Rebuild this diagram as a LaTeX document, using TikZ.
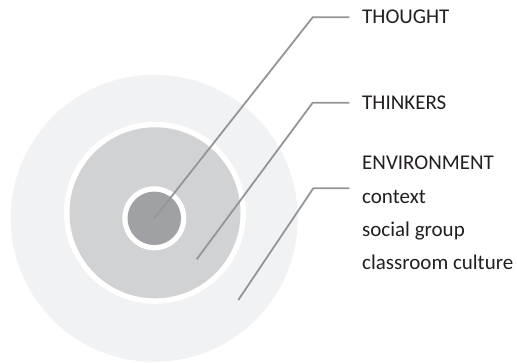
\documentclass[tikz,border=0pt]{standalone}
\usepackage{fontspec}
\setmainfont{Carlito}
\definecolor{outerc}{HTML}{F1F2F3}
\definecolor{midc}{HTML}{D1D2D4}
\definecolor{innerc}{HTML}{A0A1A5}
\definecolor{leadc}{HTML}{939598}
\definecolor{textc}{HTML}{231F20}
\begin{document}
\begin{tikzpicture}[x=1pt,y=-1pt,
  disc/.style={circle,inner sep=0pt,draw=none},
  ring/.style={circle,inner sep=0pt,draw=none,fill=white},
  leader/.style={draw=leadc,line width=1.8pt},
  lab/.style={anchor=base west,inner sep=0pt,text=textc,font=\fontsize{21}{24}\selectfont}]
\useasboundingbox (0,0) rectangle (517,362);
\fill[white] (0,0) rectangle (517,362);
\node[disc,fill=outerc,minimum size=287pt] (envc) at (154.2,218.3) {};
\node[ring,minimum size=182pt] (midring) at (155,212.8) {};
\node[disc,fill=midc,minimum size=171pt] (thinkc) at (155,212.8) {};
\node[ring,minimum size=64pt] (inring) at (154.3,218.3) {};
\node[disc,fill=innerc,minimum size=53.5pt] (thoughtc) at (154.3,218.3) {};
% leader points
\coordinate (p2) at (196.7,259.3);
\coordinate (p3) at (238.3,300);
\coordinate (c1) at (312.7,17.3);
\coordinate (c2) at (312.7,102.7);
\coordinate (c3) at (313.3,188.3);
\coordinate (e1) at (349.3,17.3);
\coordinate (e2) at (349.3,102.7);
\coordinate (e3) at (349.3,188.3);
\draw[leader] (thoughtc.center) -- (c1) -- (e1);
\draw[leader] (p2) -- (c2) -- (e2);
\draw[leader] (p3) -- (c3) -- (e3);
% labels
\node[lab] (l1) at (362,23) {THOUGHT};
\node[lab] (l2) at (362,109) {THINKERS};
\node[lab] (l3) at (362,169) {ENVIRONMENT};
\node[lab] (l4) at (362,203.3) {context};
\node[lab] (l5) at (362,236.7) {social group};
\node[lab] (l6) at (362,269.5) {classroom culture};
\end{tikzpicture}
\end{document}
